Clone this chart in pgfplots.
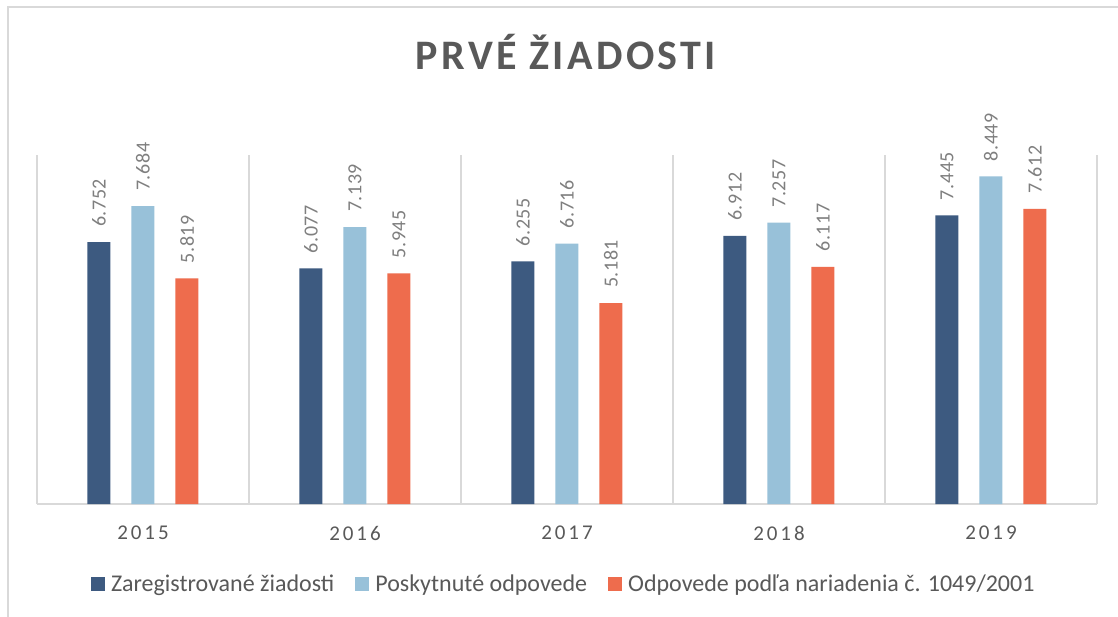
\documentclass[border=0pt]{standalone}
\usepackage{pgfplots}
\pgfplotsset{compat=1.18}
\usepackage{fontspec}
\setmainfont{Carlito}
\newfontfamily\titlefont[LetterSpace=8]{Carlito}
\newfontfamily\yearfont[LetterSpace=14]{Carlito}
\newfontfamily\labelfont[LetterSpace=3]{Carlito}
\definecolor{darkblue}{HTML}{3D5A80}
\definecolor{lightblue}{HTML}{98C1D9}
\definecolor{orangec}{HTML}{EE6C4D}
\definecolor{gridgray}{HTML}{D9D9D9}
\definecolor{axisgray}{HTML}{595959}
\definecolor{labelgray}{HTML}{7F7F7F}
\begin{document}
\begin{tikzpicture}[x=1pt,y=1pt]
\useasboundingbox (0,0) rectangle (1118,616);
\fill[white] (0,0) rectangle (1118,616);
\draw[gridgray, line width=2pt] (8,-5) -- (8,609) -- (1125,609);
\node[text=axisgray, font=\fontsize{42}{48}\selectfont\titlefont\bfseries] at (566,564) {PRVÉ ŽIADOSTI};
\begin{axis}[
  at={(37pt,112pt)}, anchor=south west,
  scale only axis, width=1060pt, height=349pt,
  ymin=0, ymax=9000, xmin=-0.5, xmax=4.5,
  hide y axis,
  axis x line*=bottom,
  x axis line style={draw=gridgray, line width=1.5pt, -},
  xtick={0,1,2,3,4},
  xticklabels={2015,2016,2017,2018,2019},
  major tick length=0pt,
  minor xtick={-0.5,0.5,1.5,2.5,3.5,4.5},
  minor tick length=0pt,
  xminorgrids,
  minor grid style={draw=gridgray, line width=1.5pt},
  xticklabel style={anchor=center, yshift=-29pt, text=axisgray, font=\fontsize{21}{24}\selectfont\yearfont},
  ybar=21pt, bar width=23pt,
  /pgf/number format/.cd, 1000 sep={.}, assume math mode=true, /pgfplots/.cd,
  nodes near coords,
  every node near coord/.append style={rotate=90, anchor=west, text=labelgray,
     font=\fontsize{20}{24}\selectfont\labelfont, inner xsep=15pt, inner ysep=0pt},
  legend columns=3,
  legend style={at={(0.497,-0.229)}, anchor=center, draw=none, fill=none,
     font=\fontsize{24}{28}\selectfont, text=axisgray,
     /tikz/every even column/.append style={column sep=19pt}},
  legend image code/.code={\fill[#1] (0pt,-7pt) rectangle (14pt,7pt); \path (18pt,0pt);},
]
\addplot[fill=darkblue, draw=none] coordinates {(0,6752) (1,6077) (2,6255) (3,6912) (4,7445)};
\addplot[fill=lightblue, draw=none] coordinates {(0,7684) (1,7139) (2,6716) (3,7257) (4,8449)};
\addplot[fill=orangec, draw=none] coordinates {(0,5819) (1,5945) (2,5181) (3,6117) (4,7612)};
\legend{Zaregistrované žiadosti, Poskytnuté odpovede, Odpovede podľa nariadenia č. 1049/2001}
\end{axis}
\end{tikzpicture}
\end{document}
